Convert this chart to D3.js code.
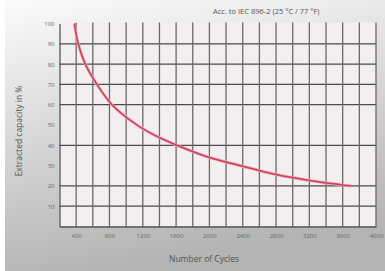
<!DOCTYPE html>
<html lang="en">
<head>
    <meta charset="utf-8">
    <title>Cycle life</title>
    <script src="https://cdnjs.cloudflare.com/ajax/libs/d3/7.8.5/d3.min.js"></script>
    <style>
        body { margin: 0; background: #fff; }
        text { font-family: "Open Sans", "DejaVu Sans", sans-serif; }
        .grid line { stroke: #4a4a4a; stroke-width: 1.3; }
        .tick text { fill: #666; font-size: 6px; }
    </style>
</head>
<body>
<svg id="chart" width="385" height="271"></svg>
<script>
    // capacity curve
    var cycles   = [380, 425, 510, 650, 830, 1130, 1340, 1610, 2000, 2400, 2800, 3200, 3700];
    var capacity = [100, 90,  80,  70,  60,  50,   45,   40,   34,   29.7, 25.6, 22.7, 20];

    var xTicks = [400, 800, 1200, 1600, 2000, 2400, 2800, 3200, 3600, 4000];
    var yTicks = [10, 20, 30, 40, 50, 60, 70, 80, 90, 100];
    var yGrid  = [10, 20, 40, 60, 70, 80, 90];
    var xGrid  = d3.range(400, 4001, 200);

    var svg = d3.select("#chart");
    var mLeft = 59.5, mRight = 376, mTop = 23.5, mBottom = 226.5;

    var x = d3.scaleLinear().domain([200, 4000]).range([mLeft, mRight]);
    var y = d3.scaleLinear().domain([0, 100]).range([mBottom, mTop]);

    var defs = svg.append("defs");
    var bg = defs.append("linearGradient").attr("id", "bg")
        .attr("x1", 0).attr("y1", 0).attr("x2", 0.25).attr("y2", 1);
    bg.append("stop").attr("offset", "0%").attr("stop-color", "#fbfbfb");
    bg.append("stop").attr("offset", "100%").attr("stop-color", "#b4b4b4");

    svg.append("rect").attr("x", 5).attr("y", 0)
        .attr("width", 380).attr("height", 271)
        .attr("fill", "url(#bg)");

    // plot area
    svg.append("rect")
        .attr("x", mLeft).attr("y", mTop - 1)
        .attr("width", mRight - mLeft).attr("height", mBottom - mTop + 1)
        .attr("fill", "#f3eff1");

    var grid = svg.append("g").attr("class", "grid");
    grid.selectAll("line.h")
        .data(yGrid)
        .enter()
        .append("line")
        .attr("class", "h")
        .attr("x1", mLeft).attr("x2", mRight)
        .attr("y1", d => y(d)).attr("y2", d => y(d));
    grid.selectAll("line.v")
        .data(xGrid)
        .enter()
        .append("line")
        .attr("class", "v")
        .attr("x1", d => x(d)).attr("x2", d => x(d))
        .attr("y1", mTop - 1).attr("y2", mBottom)
        .style("stroke", "#6a6a6a");

    // axes
    svg.append("g")
        .attr("transform", "translate(0," + mBottom + ")")
        .call(d3.axisBottom(x).tickValues(xTicks).tickFormat(d3.format("d")).tickSize(0).tickPadding(7))
        .call(g => g.select(".domain").attr("stroke", "#555").attr("stroke-width", 1.3));

    svg.append("g")
        .attr("transform", "translate(" + mLeft + ",0)")
        .call(d3.axisLeft(y).tickValues(yTicks).tickSize(0).tickPadding(5))
        .call(g => g.select(".domain").attr("stroke", "#555").attr("stroke-width", 1.3));

    // curve
    var line = d3.line()
        .x((d, i) => x(cycles[i]))
        .y(d => y(d))
        .curve(d3.curveCatmullRom.alpha(0.5));

    svg.append("path")
        .datum(capacity)
        .attr("d", line)
        .attr("fill", "none")
        .attr("stroke", "#f2a7b4")
        .attr("stroke-width", 3);
    svg.append("path")
        .datum(capacity)
        .attr("d", line)
        .attr("fill", "none")
        .attr("stroke", "#c8405a")
        .attr("stroke-width", 1.5);

    // labels
    svg.append("text")
        .attr("x", 213).attr("y", 14)
        .attr("font-size", 7.5)
        .attr("fill", "#555")
        .text("Acc. to IEC 896-2 (25 °C / 77 °F)");

    svg.append("text")
        .attr("transform", "translate(22,131) rotate(-90)")
        .attr("text-anchor", "middle")
        .attr("font-size", 8.5)
        .attr("fill", "#555")
        .text("Extracted capacity in %");

    svg.append("text")
        .attr("x", 204).attr("y", 262)
        .attr("text-anchor", "middle")
        .attr("font-size", 8.5)
        .attr("fill", "#555")
        .text("Number of Cycles");
</script>
</body>
</html>
